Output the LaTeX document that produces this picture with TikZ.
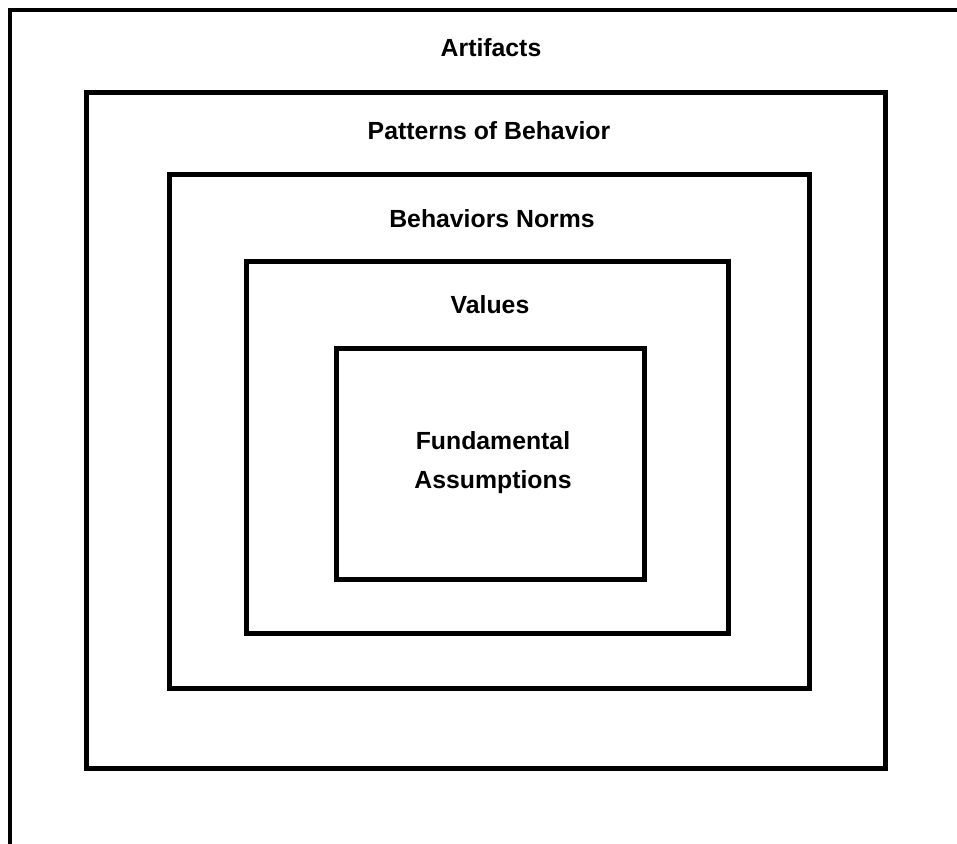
\documentclass[tikz,border=0pt]{standalone}
\usepackage{fontspec}
\setmainfont{Liberation Sans}
\begin{document}
\begin{tikzpicture}[x=0.75pt,y=-0.75pt,
  layerbox/.style={draw=black,line width=3.75pt},
  outerbox/.style={draw=black,line width=3pt},
  layertext/.style={font=\bfseries\fontsize{18.6}{22}\selectfont,inner sep=0pt,anchor=center,align=center}]
  \useasboundingbox (0,0) rectangle (957,843);
  \clip (0,0) rectangle (957,843);
  \fill[white] (0,0) rectangle (957,843);
  % nested culture layers, outermost first
  \draw[outerbox] (10,10) rectangle (1200,1100);
  \draw[layerbox] (86.5,92.5) rectangle (885.5,768.5);
  \draw[layerbox] (169.5,174.5) rectangle (809.5,688.5);
  \draw[layerbox] (246.5,261.5) rectangle (728.5,633.5);
  \draw[layerbox] (336.5,348.5) rectangle (644.5,579.5);
  % layer labels
  \node[layertext] (artifacts) at (491,48) {Artifacts};
  \node[layertext] (patterns) at (489,131) {Patterns of Behavior};
  \node[layertext] (norms) at (492,219) {Behaviors Norms};
  \node[layertext] (values) at (490,305) {Values};
  \node[layertext,font=\bfseries\fontsize{18.6}{29.3}\selectfont] (assumptions) at (493,463) {Fundamental\\Assumptions};
\end{tikzpicture}
\end{document}
